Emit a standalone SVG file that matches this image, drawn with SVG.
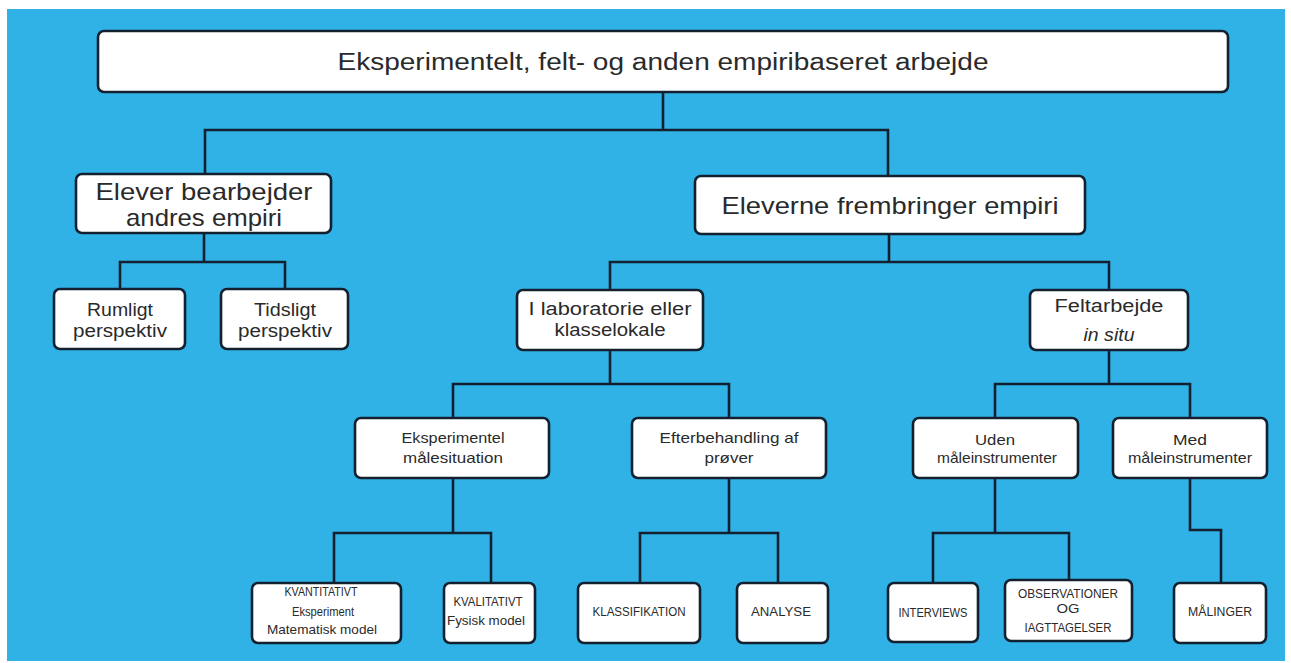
<svg xmlns="http://www.w3.org/2000/svg" width="1291" height="663" viewBox="0 0 1291 663">
<style>
.box{fill:#ffffff;stroke:#12202f;stroke-width:2.6}
.ln{fill:none;stroke:#12202f;stroke-width:2.6;stroke-linecap:square;stroke-linejoin:miter}
text{font-family:"Liberation Sans",Arial,sans-serif;fill:#2a2a2a;text-anchor:middle}
.t1{font-size:23px}
.t2{font-size:24px}
.t3{font-size:17.5px}
.t4{font-size:15px}
.t5{font-size:12px}
.t6{font-size:13px}
</style>
<rect x="0" y="0" width="1291" height="663" fill="#ffffff"/>
<rect x="7" y="9" width="1278" height="652" fill="#31b2e6"/>
<g id="connectors">
<path class="ln" d="M663 92V130M205 130H888M205 130V174M888 130V176"/>
<path class="ln" d="M204 233V262M120 262H285M120 262V289M285 262V289"/>
<path class="ln" d="M889 234V262M610 262H1109M610 262V290M1109 262V290"/>
<path class="ln" d="M610 350V384M453 384H729M453 384V418M729 384V418"/>
<path class="ln" d="M1109 350V384M995 384H1190M995 384V418M1190 384V418"/>
<path class="ln" d="M453 478V533M334 533H491M334 533V583M491 533V583"/>
<path class="ln" d="M729 478V533M640 533H778M640 533V583M778 533V583"/>
<path class="ln" d="M995 478V533M933 533H1069M933 533V583M1069 533V580"/>
<path class="ln" d="M1190 478V530H1221V583"/>
</g>
<g id="n-root"><rect class="box" x="98" y="31" width="1130" height="61" rx="6"/><text class="t1" x="663" y="70" textLength="651" lengthAdjust="spacingAndGlyphs">Eksperimentelt, felt- og anden empiribaseret arbejde</text></g>
<g id="n-andres"><rect class="box" x="76" y="174" width="255" height="59" rx="6"/><text class="t2" x="204" y="200" textLength="217" lengthAdjust="spacingAndGlyphs">Elever bearbejder</text><text class="t2" x="204" y="226" textLength="156" lengthAdjust="spacingAndGlyphs">andres empiri</text></g>
<g id="n-frembringer"><rect class="box" x="695" y="176" width="390" height="58" rx="6"/><text class="t2" x="890" y="214" textLength="337" lengthAdjust="spacingAndGlyphs">Eleverne frembringer empiri</text></g>
<g id="n-rumligt"><rect class="box" x="54" y="289" width="131" height="60" rx="6"/><text class="t3" x="120" y="316" textLength="66" lengthAdjust="spacingAndGlyphs">Rumligt</text><text class="t3" x="120" y="337" textLength="94" lengthAdjust="spacingAndGlyphs">perspektiv</text></g>
<g id="n-tidsligt"><rect class="box" x="221" y="289" width="127" height="60" rx="6"/><text class="t3" x="285" y="316" textLength="62" lengthAdjust="spacingAndGlyphs">Tidsligt</text><text class="t3" x="285" y="337" textLength="94" lengthAdjust="spacingAndGlyphs">perspektiv</text></g>
<g id="n-lab"><rect class="box" x="517" y="290" width="186" height="60" rx="6"/><text class="t3" x="610" y="315" textLength="163" lengthAdjust="spacingAndGlyphs">I laboratorie eller</text><text class="t3" x="610" y="336" textLength="111" lengthAdjust="spacingAndGlyphs">klasselokale</text></g>
<g id="n-felt"><rect class="box" x="1030" y="290" width="158" height="60" rx="6"/><text class="t3" x="1109" y="312" textLength="109" lengthAdjust="spacingAndGlyphs">Feltarbejde</text><text class="t3" x="1109" y="341" font-style="italic" textLength="51" lengthAdjust="spacingAndGlyphs">in situ</text></g>
<g id="n-eksp"><rect class="box" x="355" y="418" width="194" height="60" rx="6"/><text class="t4" x="453" y="443" textLength="103" lengthAdjust="spacingAndGlyphs">Eksperimentel</text><text class="t4" x="453" y="463" textLength="100" lengthAdjust="spacingAndGlyphs">målesituation</text></g>
<g id="n-efter"><rect class="box" x="632" y="418" width="194" height="60" rx="6"/><text class="t4" x="729" y="443" textLength="139" lengthAdjust="spacingAndGlyphs">Efterbehandling af</text><text class="t4" x="729" y="463" textLength="49" lengthAdjust="spacingAndGlyphs">prøver</text></g>
<g id="n-uden"><rect class="box" x="913" y="418" width="165" height="60" rx="6"/><text class="t4" x="995" y="445" textLength="40" lengthAdjust="spacingAndGlyphs">Uden</text><text class="t4" x="997" y="463" textLength="120" lengthAdjust="spacingAndGlyphs">måleinstrumenter</text></g>
<g id="n-med"><rect class="box" x="1113" y="418" width="154" height="60" rx="6"/><text class="t4" x="1190" y="445" textLength="34" lengthAdjust="spacingAndGlyphs">Med</text><text class="t4" x="1190" y="463" textLength="124" lengthAdjust="spacingAndGlyphs">måleinstrumenter</text></g>
<g id="n-kvant"><rect class="box" x="252" y="583" width="149" height="60" rx="6"/><text class="t5" x="321" y="596" textLength="73" lengthAdjust="spacingAndGlyphs">KVANTITATIVT</text><text class="t6" x="323" y="616" textLength="62" lengthAdjust="spacingAndGlyphs">Eksperiment</text><text class="t6" x="322" y="634" textLength="110" lengthAdjust="spacingAndGlyphs">Matematisk model</text></g>
<g id="n-kval"><rect class="box" x="444" y="583" width="91" height="60" rx="6"/><text class="t5" x="488" y="606" textLength="69" lengthAdjust="spacingAndGlyphs">KVALITATIVT</text><text class="t6" x="486" y="625" textLength="78" lengthAdjust="spacingAndGlyphs">Fysisk model</text></g>
<g id="n-klass"><rect class="box" x="578" y="583" width="122" height="60" rx="6"/><text class="t5" x="639" y="616" textLength="93" lengthAdjust="spacingAndGlyphs">KLASSIFIKATION</text></g>
<g id="n-analyse"><rect class="box" x="737" y="583" width="91" height="60" rx="6"/><text class="t5" x="781" y="616" textLength="60" lengthAdjust="spacingAndGlyphs">ANALYSE</text></g>
<g id="n-interviews"><rect class="box" x="888" y="583" width="90" height="59" rx="6"/><text class="t5" x="933" y="617" textLength="69" lengthAdjust="spacingAndGlyphs">INTERVIEWS</text></g>
<g id="n-obs"><rect class="box" x="1005" y="580" width="127" height="61" rx="6"/><text class="t5" x="1068" y="598" textLength="100" lengthAdjust="spacingAndGlyphs">OBSERVATIONER</text><text class="t5" x="1068" y="613" textLength="23" lengthAdjust="spacingAndGlyphs">OG</text><text class="t5" x="1068" y="632" textLength="87" lengthAdjust="spacingAndGlyphs">IAGTTAGELSER</text></g>
<g id="n-malinger"><rect class="box" x="1174" y="583" width="92" height="60" rx="6"/><text class="t5" x="1220" y="616" textLength="64" lengthAdjust="spacingAndGlyphs">MÅLINGER</text></g>
</svg>
